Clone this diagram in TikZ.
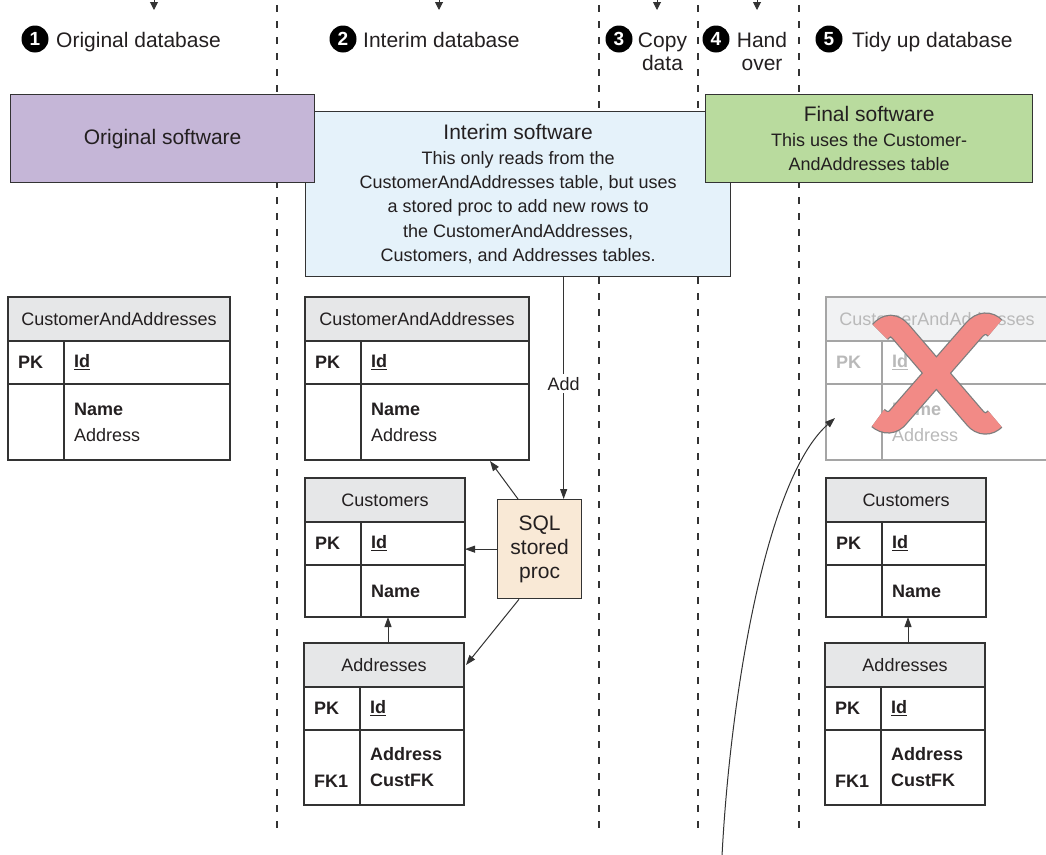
\documentclass[tikz,border=0pt]{standalone}
\usepackage{fontspec}
\setmainfont{Liberation Sans}
\usetikzlibrary{arrows.meta,calc}
\definecolor{txt}{RGB}{35,31,32}
\definecolor{linec}{RGB}{51,51,51}
\definecolor{purp}{RGB}{197,182,215}
\definecolor{blu}{RGB}{229,242,250}
\definecolor{grn}{RGB}{185,219,158}
\definecolor{peach}{RGB}{249,233,214}
\definecolor{hdrc}{RGB}{230,231,232}
\definecolor{gline}{RGB}{165,165,165}
\definecolor{ghdr}{RGB}{241,242,243}
\definecolor{gtext}{RGB}{185,185,185}
\definecolor{xred}{RGB}{242,138,134}
\definecolor{xline}{RGB}{125,125,125}

\newcommand{\ertable}[9]{%
\begin{scope}[#9]
\node[hdr, minimum width=#4, minimum height=44] (#1h) at (#2,#3) {#6};
\node[cell, minimum width=56, minimum height=43] (#1a) at (#2,#3+44) {};
\node[cell, minimum width=#4-56, minimum height=43] (#1b) at (#2+56,#3+44) {};
\node[cell, minimum width=56, minimum height=#5] (#1c) at (#2,#3+87) {};
\node[cell, minimum width=#4-56, minimum height=#5] (#1d) at (#2+56,#3+87) {};
\node[lbl, font=\fontsize{18}{26}\selectfont\bfseries] (#1pk) at ($(#1a.west)+(10,0)$) {PK};
\node[lbl] (#1id) at ($(#1b.west)+(10,0)$) {\textbf{\underline{Id}}};
\node[lbl] (#1l) at ($(#1c.west)+(10,0)$) {#7};
\node[lbl] (#1r) at ($(#1d.west)+(10,0)$) {#8};
\end{scope}}

\begin{document}
\begin{tikzpicture}[x=1pt, y=-1pt, text=txt,
  cell/.style={draw=linec, line width=1.5pt, rectangle, inner sep=0pt, outer sep=0pt, anchor=north west},
  hdr/.style={cell, fill=hdrc, font=\fontsize{18}{24}\selectfont},
  lbl/.style={anchor=west, inner sep=0pt, font=\fontsize{18}{26}\selectfont, align=left},
  box/.style={draw=linec, line width=1.3pt, anchor=north west, inner sep=0pt, align=center, font=\fontsize{18}{24.3}\selectfont},
  arr/.style={draw=linec, line width=1pt, -{Triangle[length=10pt,width=7pt]}},
  toparr/.style={draw=linec, line width=1pt, -{Triangle[length=8pt,width=8pt]}},
  dline/.style={draw=linec, line width=1.3pt, dash pattern=on 7pt off 9pt},
  numc/.style={circle, fill=black, text=white, inner sep=0pt, minimum size=27pt, font=\fontsize{19}{19}\selectfont\bfseries},
  hd/.style={inner sep=0pt, font=\fontsize{21}{24}\selectfont}]
\useasboundingbox (0,0) rectangle (1046,854);

% dashed separators
\draw[dline] (277,5) -- (277,830);
\draw[dline] (599,5) -- (599,830);
\draw[dline] (698,5) -- (698,830);
\draw[dline] (799,5) -- (799,830);

% top arrows
\draw[toparr] (154,-1) -- (154,10);
\draw[toparr] (439,-1) -- (439,10);
\draw[toparr] (657,-1) -- (657,10);
\draw[toparr] (757,-1) -- (757,10);

% headings
\node[numc] (n1) at (35,39) {1};
\node[hd, anchor=base west] (h1) at (56,47) {Original database};
\node[numc] (n2) at (343,39) {2};
\node[hd, anchor=base west] (h2) at (363,47) {Interim database};
\node[numc] (n3) at (619,39) {3};
\node[hd, anchor=base] (h3a) at (662.5,47) {Copy};
\node[hd, anchor=base] (h3b) at (662.5,70) {data};
\node[numc] (n4) at (716,39) {4};
\node[hd, anchor=base] (h4a) at (762,47) {Hand};
\node[hd, anchor=base] (h4b) at (762,70) {over};
\node[numc] (n5) at (829,39) {5};
\node[hd, anchor=base west] (h5) at (852,47) {Tidy up database};

% software boxes
\node[box, fill=blu, minimum width=425, minimum height=165] (interim) at (305,111)
  {{\fontsize{21}{24.3}\selectfont Interim software}\\This only reads from the\\CustomerAndAddresses table, but uses\\a stored proc to add new rows to\\the CustomerAndAddresses,\\Customers, and Addresses tables.};
\node[box, fill=purp, minimum width=304, minimum height=88, font=\fontsize{21}{24}\selectfont] (orig) at (10,94) {Original software};
\node[box, fill=grn, minimum width=327, minimum height=88] (final) at (705,94)
  {{\fontsize{21}{24.3}\selectfont Final software}\\This uses the Customer-\\AndAddresses table};

% tables
\ertable{t1}{8}{297}{222}{76}{CustomerAndAddresses}{}{\textbf{Name}\\Address}{}
\ertable{t2}{305}{297}{224}{76}{CustomerAndAddresses}{}{\textbf{Name}\\Address}{}
\ertable{c2}{305}{478}{160}{52}{Customers}{}{\textbf{Name}}{}
\ertable{a2}{304}{643}{160}{75}{Addresses}{\vphantom{Ad}\\\textbf{FK1}}{\textbf{Address}\\\textbf{CustFK}}{}
\ertable{g1}{826}{297}{222}{76}{CustomerAndAddresses}{}{\textbf{Name}\\Address}{cell/.append style={draw=gline}, hdr/.append style={fill=ghdr, text=gtext}, lbl/.append style={text=gtext}}
\ertable{c3}{826}{478}{160}{52}{Customers}{}{\textbf{Name}}{}
\ertable{a3}{825}{643}{160}{75}{Addresses}{\vphantom{Ad}\\\textbf{FK1}}{\textbf{Address}\\\textbf{CustFK}}{}

% SQL stored proc
\node[box, fill=peach, minimum width=84, minimum height=99, font=\fontsize{21}{24}\selectfont] (sql) at (497,499) {SQL\\stored\\proc};

% connectors
\coordinate (addtop) at ($(sql.north)+(24,0)$);
\draw[arr] (addtop |- interim.south) -- (addtop)
  node[pos=0.48, fill=white, inner sep=3pt, font=\fontsize{18}{22}\selectfont] (addlbl) {Add};
\draw[arr] ($(sql.north west)+(21,0)$) -- ($(t2d.south west)+(129,1)$);
\draw[arr] (sql.west) -- (sql.west -| c2b.east);
\draw[arr] ($(sql.south west)+(22,0)$) -- ($(a2h.east)+(2,0)$);
\coordinate (a2top) at ($(a2h.north)+(4,0)$);
\draw[arr] (a2top) -- (a2top |- c2c.south);
\coordinate (a3top) at ($(a3h.north)+(3,0)$);
\draw[arr] (a3top) -- (a3top |- c3c.south);

% red cross
\draw[xline, line width=22.5pt]
  (880,332) .. controls (887,324) and (894,324) .. (901,332) -- (975,418) .. controls (981,425) and (989,425) .. (995,419)
  (995,328) .. controls (989,322) and (981,322) .. (974,330) -- (899,416) .. controls (893,424) and (885,424) .. (878,418);
\draw[xred, line width=20pt]
  (880,332) .. controls (887,324) and (894,324) .. (901,332) -- (975,418) .. controls (981,425) and (989,425) .. (995,419)
  (995,328) .. controls (989,322) and (981,322) .. (974,330) -- (899,416) .. controls (893,424) and (885,424) .. (878,418);

% curved arrow
\coordinate (cstart) at (722,856);
\coordinate (ctip) at ($(g1c.west)+(9,-4)$);
\draw[arr] (cstart) .. controls (730,700) and (765,480) .. (ctip);
\end{tikzpicture}
\end{document}
